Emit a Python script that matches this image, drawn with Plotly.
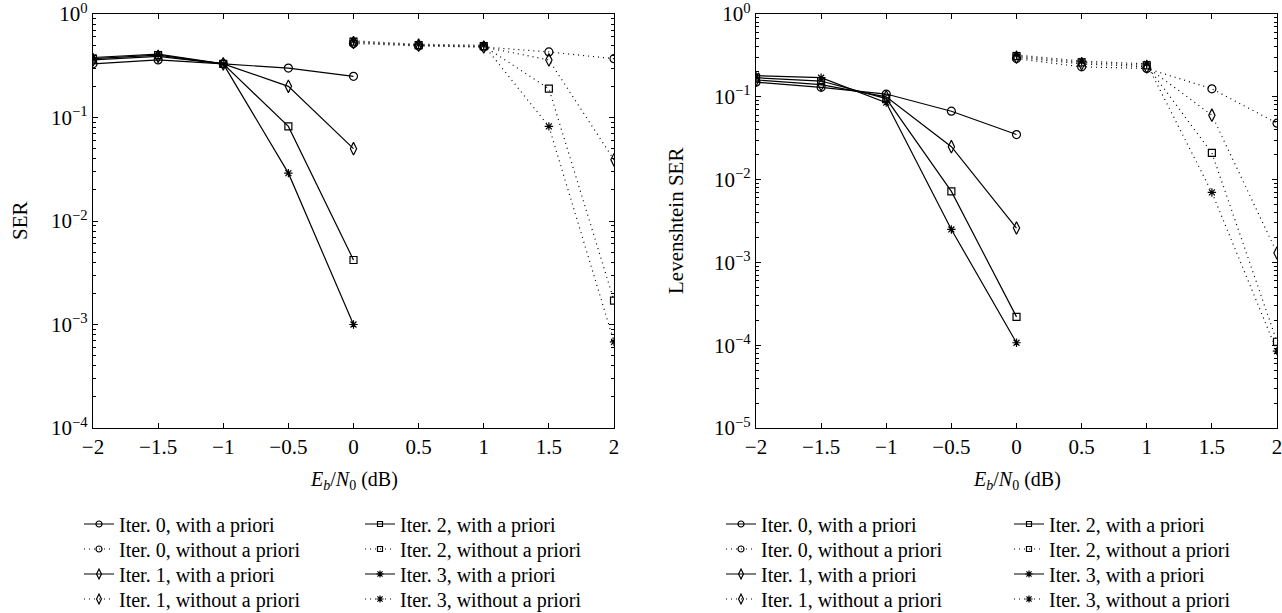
import plotly.graph_objects as go

# ---------------- data ----------------
x_with = [-2, -1.5, -1, -0.5, 0]
x_without = [0, 0.5, 1, 1.5, 2]

ser_with = {
    0: [0.33, 0.36, 0.33, 0.30, 0.25],
    1: [0.36, 0.39, 0.33, 0.20, 0.050],
    2: [0.37, 0.40, 0.33, 0.082, 0.0042],
    3: [0.38, 0.41, 0.33, 0.029, 0.0010],
}
ser_without = {
    0: [0.52, 0.49, 0.48, 0.43, 0.37],
    1: [0.53, 0.50, 0.48, 0.36, 0.039],
    2: [0.54, 0.50, 0.49, 0.19, 0.0017],
    3: [0.55, 0.51, 0.50, 0.082, 0.00068],
}
lev_with = {
    0: [0.150, 0.130, 0.108, 0.067, 0.035],
    1: [0.160, 0.140, 0.100, 0.025, 0.0026],
    2: [0.170, 0.155, 0.095, 0.0072, 0.00022],
    3: [0.180, 0.170, 0.085, 0.0025, 0.000107],
}
lev_without = {
    0: [0.29, 0.23, 0.22, 0.125, 0.048],
    1: [0.30, 0.25, 0.23, 0.060, 0.0013],
    2: [0.31, 0.26, 0.24, 0.021, 0.00011],
    3: [0.32, 0.27, 0.25, 0.0070, 0.000085],
}

x_ticks = [-2, -1.5, -1, -0.5, 0, 0.5, 1, 1.5, 2]
x_ticktext = ["\u22122", "\u22121.5", "\u22121", "\u22120.5", "0", "0.5", "1", "1.5", "2"]
left_exps = [0, -1, -2, -3, -4]
right_exps = [0, -1, -2, -3, -4, -5]
x_title = "<i>E</i><sub><i>b</i></sub>/<i>N</i><sub>0</sub> (dB)"
y_titles = ["SER", "Levenshtein SER"]

markers = {0: "circle-open", 1: "diamond-tall-open", 2: "square-open", 3: "asterisk-open"}
msize = {0: 8, 1: 9, 2: 7, 3: 7}
legsize = {0: 6, 1: 7, 2: 5, 3: 6}

FONT = "Liberation Serif, Times New Roman, serif"
W, H = 1282, 613

# geometry (px)
LX = (93, 614)
RX = (756, 1277)
YT, YB = 14, 428

# legend layout (px): legend box left edges & row centres
col_x = {("L", 0): 79, ("L", 1): 360, ("R", 0): 721, ("R", 1): 1009}
row_y = [524, 549, 574, 599]

fig = go.Figure()
legend_layouts = {}
leg_counter = [0]


def new_legend(px, py):
    leg_counter[0] += 1
    key = "legend" if leg_counter[0] == 1 else f"legend{leg_counter[0]}"
    legend_layouts[key] = dict(
        x=px / W, y=1 - py / H, xanchor="left", yanchor="middle",
        orientation="v", bgcolor="rgba(0,0,0,0)", borderwidth=0,
        font=dict(family=FONT, size=20, color="black"),
        itemwidth=30, tracegroupgap=0,
    )
    return key


def add_series(with_d, without_d, xa, ya, side):
    for it in range(4):
        col = 0 if it < 2 else 1
        for k, (xs, d, dash, lab) in enumerate([
            (x_with, with_d, "solid", "with a priori"),
            (x_without, without_d, "1px,4px", "without a priori"),
        ]):
            name = f"Iter. {it}, {lab}"
            fig.add_trace(go.Scatter(
                x=xs, y=d[it], xaxis=xa, yaxis=ya, mode="lines+markers",
                name=name, showlegend=False,
                line=dict(color="black", width=1.2, dash=dash),
                marker=dict(symbol=markers[it], size=msize[it], color="black",
                            line=dict(color="black", width=1.2)),
            ))
            row = (it % 2) * 2 + k
            key = new_legend(col_x[(side, col)], row_y[row])
            fig.add_trace(go.Scatter(
                x=[None], y=[None], xaxis=xa, yaxis=ya, mode="lines+markers",
                name=name, showlegend=True, legend=key,
                line=dict(color="black", width=1.2, dash=dash),
                marker=dict(symbol=markers[it], size=legsize[it], color="black",
                            line=dict(color="black", width=1.2)),
            ))


add_series(ser_with, ser_without, "x", "y", "L")
add_series(lev_with, lev_without, "x2", "y2", "R")

ytop = 1 - YT / H
ybot = 1 - YB / H

xaxis_common = dict(
    tickmode="array", tickvals=x_ticks, ticktext=x_ticktext, range=[-2, 2],
    ticks="inside", ticklen=5, tickcolor="black", showline=True, linecolor="black",
    linewidth=1.2, mirror="ticks", showgrid=False, zeroline=False, automargin=False,
    ticklabeloverflow="allow",
    tickfont=dict(family=FONT, size=21, color="black"),
)


def yaxis_common(exps):
    return dict(
        type="log", range=[min(exps), max(exps)], tickmode="array",
        tickvals=[10.0 ** e for e in exps],
        ticktext=[f"10<sup>{'\u2212' if e < 0 else ''}{abs(e)}</sup>" for e in exps],
        ticks="inside", ticklen=5, tickcolor="black", showline=True, linecolor="black",
        linewidth=1.2, mirror="ticks", showgrid=False, zeroline=False, automargin=False,
        ticklabeloverflow="allow",
        minor=dict(ticks="inside", ticklen=3, tickcolor="black", dtick="D1", showgrid=False),
        tickfont=dict(family=FONT, size=21, color="black"),
    )


annotations = []
for (x0, x1), yt, ytx in [(LX, y_titles[0], 20), (RX, y_titles[1], 676)]:
    annotations.append(dict(
        text=x_title, xref="paper", yref="paper", x=(x0 + x1) / 2 / W, y=1 - 481 / H,
        xanchor="center", yanchor="middle", showarrow=False,
        font=dict(family=FONT, size=20, color="black"),
    ))
    annotations.append(dict(
        text=yt, xref="paper", yref="paper", x=ytx / W, y=1 - (YT + YB) / 2 / H,
        xanchor="center", yanchor="middle", showarrow=False, textangle=-90,
        font=dict(family=FONT, size=21, color="black"),
    ))

fig.update_layout(
    template="none",
    width=W, height=H, margin=dict(l=0, r=0, t=0, b=0, autoexpand=False),
    paper_bgcolor="white", plot_bgcolor="white",
    font=dict(family=FONT, color="black"),
    xaxis=dict(domain=[LX[0] / W, LX[1] / W], anchor="y", **xaxis_common),
    yaxis=dict(domain=[ybot, ytop], anchor="x", **yaxis_common(left_exps)),
    xaxis2=dict(domain=[RX[0] / W, RX[1] / W], anchor="y2", **xaxis_common),
    yaxis2=dict(domain=[ybot, ytop], anchor="x2", **yaxis_common(right_exps)),
    showlegend=True,
    annotations=annotations,
    **legend_layouts,
)

fig.write_html("out.html", include_plotlyjs=True,
               config={"displayModeBar": False},
               post_script="document.body.style.margin='0';")
